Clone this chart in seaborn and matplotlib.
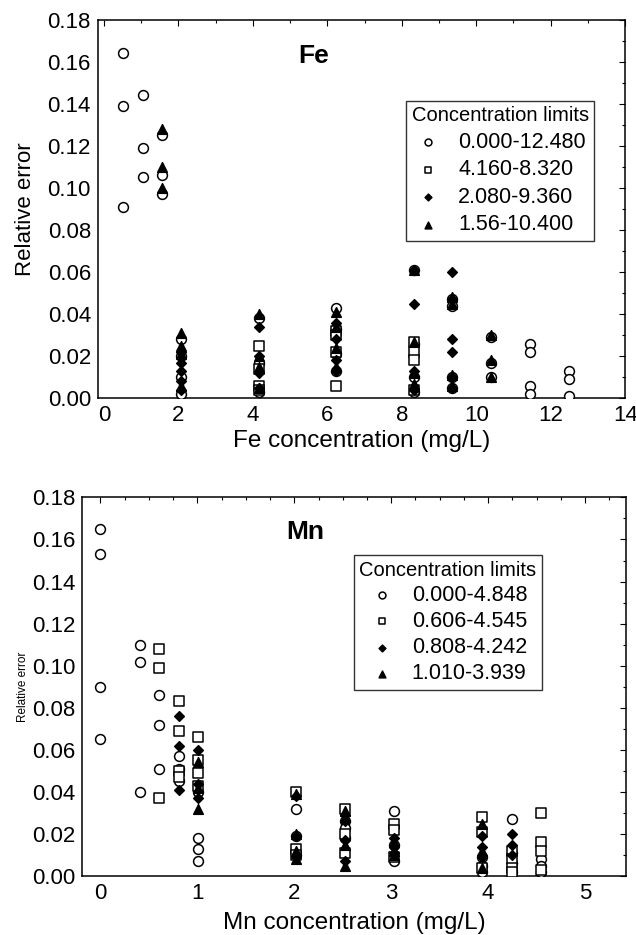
import numpy as np
import pandas as pd
import matplotlib
matplotlib.use("Agg")
import matplotlib.pyplot as plt
from matplotlib.ticker import MultipleLocator, FormatStrFormatter
import seaborn as sns

# ---- Fe panel data (concentration in mg/L, relative error) ----
fe_circle_x = [0.52, 0.52, 0.52, 1.04, 1.04, 1.04, 1.56, 1.56, 1.56,
               2.08, 2.08, 2.08, 2.08, 4.16, 4.16, 4.16,
               6.24, 6.24, 6.24, 6.24, 8.32, 8.32, 8.32, 8.32,
               9.36, 9.36, 9.36, 9.36, 10.40, 10.40, 10.40,
               11.44, 11.44, 11.44, 11.44, 12.48, 12.48, 12.48]
fe_circle_y = [0.164, 0.139, 0.091, 0.144, 0.119, 0.105, 0.125, 0.106, 0.097,
               0.028, 0.020, 0.010, 0.002, 0.038, 0.017, 0.003,
               0.043, 0.033, 0.021, 0.013, 0.061, 0.026, 0.010, 0.003,
               0.047, 0.044, 0.010, 0.005, 0.029, 0.017, 0.010,
               0.026, 0.022, 0.006, 0.002, 0.013, 0.009, 0.001]

fe_square_x = [4.16, 4.16, 4.16, 4.16, 6.24, 6.24, 6.24, 6.24,
               8.32, 8.32, 8.32, 8.32]
fe_square_y = [0.025, 0.014, 0.006, 0.004, 0.032, 0.030, 0.022, 0.006,
               0.027, 0.022, 0.018, 0.004]

fe_diamond_x = [2.08, 2.08, 2.08, 2.08, 2.08, 4.16, 4.16, 4.16, 4.16,
                6.24, 6.24, 6.24, 6.24, 8.32, 8.32, 8.32, 8.32,
                9.36, 9.36, 9.36, 9.36, 9.36, 9.36]
fe_diamond_y = [0.022, 0.017, 0.013, 0.008, 0.004, 0.034, 0.020, 0.012, 0.005,
                0.036, 0.028, 0.018, 0.013, 0.061, 0.045, 0.013, 0.004,
                0.060, 0.047, 0.028, 0.022, 0.010, 0.005]

fe_triangle_x = [1.56, 1.56, 1.56, 2.08, 2.08, 2.08, 2.08,
                 4.16, 4.16, 4.16, 4.16, 6.24, 6.24, 6.24, 6.24,
                 8.32, 8.32, 8.32, 8.32, 9.36, 9.36, 9.36, 9.36,
                 10.40, 10.40, 10.40]
fe_triangle_y = [0.128, 0.110, 0.100, 0.031, 0.025, 0.021, 0.006,
                 0.040, 0.020, 0.015, 0.005, 0.041, 0.034, 0.024, 0.015,
                 0.061, 0.027, 0.012, 0.007, 0.048, 0.045, 0.011, 0.006,
                 0.030, 0.018, 0.010]

fe_labels = ["0.000-12.480", "4.160-8.320", "2.080-9.360", "1.56-10.400"]

# ---- Mn panel data ----
mn_circle_x = [0, 0, 0, 0, 0.404, 0.404, 0.404, 0.606, 0.606, 0.606,
               0.808, 0.808, 0.808, 1.010, 1.010, 1.010, 1.010,
               2.020, 2.020, 2.020, 2.525, 2.525, 2.525, 3.030, 3.030, 3.030,
               3.939, 3.939, 3.939, 4.242, 4.242, 4.242, 4.242,
               4.545, 4.545, 4.545]
mn_circle_y = [0.165, 0.153, 0.090, 0.065, 0.110, 0.102, 0.040, 0.086, 0.072, 0.051,
               0.057, 0.051, 0.045, 0.040, 0.018, 0.013, 0.007,
               0.032, 0.019, 0.010, 0.026, 0.023, 0.018, 0.031, 0.015, 0.007,
               0.009, 0.005, 0.002, 0.027, 0.011, 0.006, 0.002,
               0.008, 0.005, 0.002]

mn_square_x = [0.606, 0.606, 0.606, 0.808, 0.808, 0.808, 0.808,
               1.010, 1.010, 1.010, 1.010, 2.020, 2.020, 2.020,
               2.525, 2.525, 2.525, 3.030, 3.030, 3.030,
               3.939, 3.939, 3.939, 4.242, 4.242, 4.242, 4.242,
               4.545, 4.545, 4.545, 4.545]
mn_square_y = [0.108, 0.099, 0.037, 0.083, 0.069, 0.050, 0.047,
               0.066, 0.055, 0.049, 0.043, 0.040, 0.013, 0.010,
               0.032, 0.020, 0.011, 0.025, 0.022, 0.009,
               0.028, 0.021, 0.004, 0.012, 0.008, 0.004, 0.002,
               0.030, 0.016, 0.012, 0.003]

mn_diamond_x = [0.808, 0.808, 0.808, 1.010, 1.010, 1.010,
                2.020, 2.020, 2.020, 2.525, 2.525, 2.525, 2.525,
                3.030, 3.030, 3.030, 3.939, 3.939, 3.939,
                4.242, 4.242, 4.242]
mn_diamond_y = [0.076, 0.062, 0.041, 0.060, 0.044, 0.037,
                0.038, 0.019, 0.009, 0.029, 0.026, 0.017, 0.007,
                0.018, 0.014, 0.011, 0.019, 0.014, 0.009,
                0.020, 0.015, 0.010]

mn_triangle_x = [1.010, 1.010, 1.010, 2.020, 2.020, 2.020, 2.020,
                 2.525, 2.525, 2.525, 3.030, 3.030, 3.030,
                 3.939, 3.939, 3.939]
mn_triangle_y = [0.054, 0.042, 0.032, 0.039, 0.020, 0.012, 0.008,
                 0.031, 0.015, 0.005, 0.016, 0.012, 0.010,
                 0.025, 0.012, 0.004]

mn_labels = ["0.000-4.848", "0.606-4.545", "0.808-4.242", "1.010-3.939"]

sns.set_theme(style="white")
plt.rcParams["font.family"] = ["Liberation Sans", "DejaVu Sans"]
plt.rcParams["text.color"] = "black"
plt.rcParams["axes.labelcolor"] = "black"
plt.rcParams["xtick.color"] = "black"
plt.rcParams["ytick.color"] = "black"

# marker, facecolor, size for circle / square / diamond / triangle
styles = [("o", "white", 50), ("s", "white", 42), ("D", "black", 24), ("^", "black", 48)]


def draw_panel(ax, xs, ys, labels):
    for (mk, fc, sz), x, y, lab in zip(styles, xs, ys, labels):
        df = pd.DataFrame({"conc": x, "err": y})
        sns.scatterplot(data=df, x="conc", y="err", ax=ax, marker=mk, s=sz,
                        facecolor=fc, edgecolor="black", linewidth=1.1,
                        label=lab, zorder=3)
    for sp in ax.spines.values():
        sp.set_color("black")
        sp.set_linewidth(1.1)
    ax.tick_params(which="both", direction="in", top=True, right=True,
                   colors="black", labelsize=16, pad=5)
    ax.tick_params(which="major", length=4, width=0.8)
    ax.tick_params(which="minor", length=2.5, width=0.8)
    ax.yaxis.set_major_locator(MultipleLocator(0.02))
    ax.yaxis.set_minor_locator(MultipleLocator(0.01))
    ax.yaxis.set_major_formatter(FormatStrFormatter("%.2f"))
    ax.set_ylim(0, 0.18)


def style_legend(ax, anchor, spacing):
    leg = ax.legend(title="Concentration limits", loc="upper left",
                    bbox_to_anchor=anchor, fontsize=15.5, title_fontsize=14.5,
                    frameon=True, fancybox=False, edgecolor="black",
                    markerscale=0.7, handlelength=1.2, handletextpad=0.8,
                    borderpad=0.25, labelspacing=spacing, borderaxespad=0)
    leg.get_frame().set_linewidth(1.0)
    leg.get_title().set_color("black")
    return leg


fig = plt.figure(figsize=(6.36, 9.35), dpi=100)
ax1 = fig.add_axes([0.154, 0.574, 0.829, 0.405])
ax2 = fig.add_axes([0.129, 0.063, 0.855, 0.405])

draw_panel(ax1, [fe_circle_x, fe_square_x, fe_diamond_x, fe_triangle_x],
           [fe_circle_y, fe_square_y, fe_diamond_y, fe_triangle_y], fe_labels)
ax1.set_xlim(-0.16, 14.0)
ax1.xaxis.set_major_locator(MultipleLocator(2))
ax1.xaxis.set_minor_locator(MultipleLocator(1))
ax1.set_xlabel("Fe concentration (mg/L)", fontsize=17.5, labelpad=3)
ax1.set_ylabel("Relative error", fontsize=16)
ax1.yaxis.set_label_coords(-0.118, 0.5)
ax1.text(0.41, 0.905, "Fe", transform=ax1.transAxes, fontsize=19,
         fontweight="bold", ha="center", va="center")
style_legend(ax1, (0.585, 0.785), 0.3)

draw_panel(ax2, [mn_circle_x, mn_square_x, mn_diamond_x, mn_triangle_x],
           [mn_circle_y, mn_square_y, mn_diamond_y, mn_triangle_y], mn_labels)
ax2.set_xlim(-0.19, 5.42)
ax2.xaxis.set_major_locator(MultipleLocator(1))
ax2.xaxis.set_minor_locator(MultipleLocator(0.25))
ax2.set_xlabel("Mn concentration (mg/L)", fontsize=17.5, labelpad=6)
ax2.set_ylabel("Relative error", fontsize=8.5)
ax2.yaxis.set_label_coords(-0.098, 0.5)
ax2.text(0.41, 0.91, "Mn", transform=ax2.transAxes, fontsize=19,
         fontweight="bold", ha="center", va="center")
style_legend(ax2, (0.50, 0.847), 0.24)

fig.savefig("out.png", dpi=100, facecolor="white")
